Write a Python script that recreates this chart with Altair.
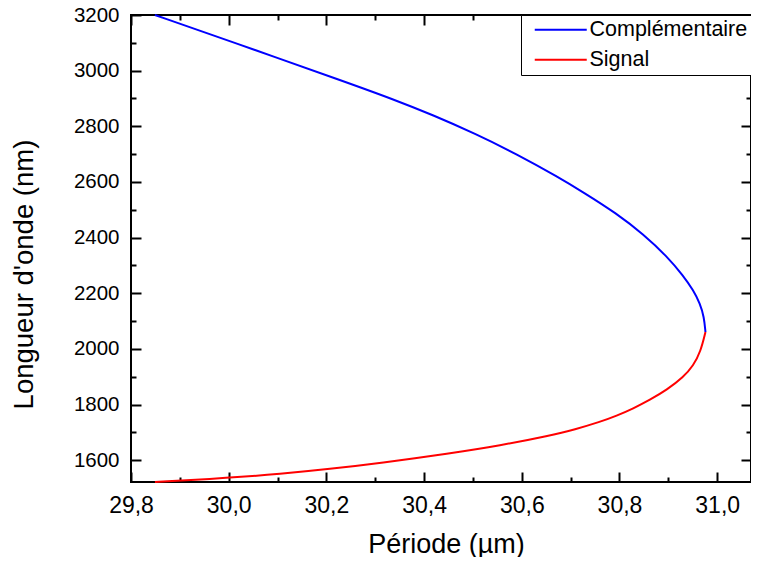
import altair as alt
import pandas as pd

# Complémentaire (idler) branch: period (µm), wavelength (nm)
comp_period = [29.849, 30.003, 30.248, 30.334, 30.419, 30.504, 30.590, 30.675, 30.726,
               30.794, 30.849, 30.897, 30.931, 30.951, 30.965, 30.973, 30.976]
comp_wl = [3200, 3106, 2954, 2899, 2840, 2774, 2700, 2617, 2563,
           2487, 2412, 2333, 2262, 2211, 2163, 2115, 2061]

# Signal branch
sig_period = [30.976, 30.966, 30.951, 30.931, 30.897, 30.862, 30.828, 30.794, 30.760,
              30.709, 30.658, 30.555, 30.453, 30.310, 30.207, 30.105, 30.003, 29.849]
sig_wl = [2061, 1990, 1940, 1899, 1853, 1817, 1786, 1760, 1738,
          1711, 1689, 1653, 1625, 1590, 1569, 1551, 1537, 1522]

series_names = ["Complémentaire", "Signal"]
series_colors = ["#0000FF", "#FF0000"]

x_domain = [29.8, 31.0692]
y_domain = [1522, 3200]
x_major = [29.8, 30.0, 30.2, 30.4, 30.6, 30.8, 31.0]
x_minor = [29.9, 30.1, 30.3, 30.5, 30.7, 30.9]
y_major = [1600, 1800, 2000, 2200, 2400, 2600, 2800, 3000, 3200]
y_minor = [1700, 1900, 2100, 2300, 2500, 2700, 2900, 3100]

rows = []
for i, (p, w) in enumerate(zip(comp_period, comp_wl)):
    rows.append({"x": p, "y": w, "s": series_names[0], "i": i})
for i, (p, w) in enumerate(zip(sig_period, sig_wl)):
    rows.append({"x": p, "y": w, "s": series_names[1], "i": i})
df = pd.DataFrame(rows)

FONT = "Arial, Liberation Sans, sans-serif"
xs = alt.Scale(domain=x_domain, nice=False, zero=False)
ys = alt.Scale(domain=y_domain, nice=False, zero=False)
xlab = "replace(format(datum.value, '.1f'), '.', ',')"


def xaxis(orient, values, size, labels, title=None, **kw):
    return alt.Axis(orient=orient, values=values, tickSize=size, offset=-size,
                    labels=labels, labelFlush=False, domain=False, grid=False,
                    tickColor="black", tickWidth=2, title=title, labelExpr=xlab, **kw)


def yaxis(orient, values, size, labels, title=None, **kw):
    return alt.Axis(orient=orient, values=values, tickSize=size, offset=-size,
                    labels=labels, labelFlush=False, domain=False, grid=False,
                    tickColor="black", tickWidth=2, title=title, format="d", **kw)


base = alt.Chart(df)

lines = base.mark_line(interpolate="basis", strokeWidth=2).encode(
    x=alt.X("x:Q", scale=xs,
            axis=xaxis("bottom", x_major, 10, True, "Période (µm)",
                       labelFontSize=23, labelFont=FONT, labelColor="black",
                       labelPadding=12, titleFontSize=27, titleFont=FONT,
                       titleFontWeight="normal", titleColor="black",
                       titleX=315, titleY=72, titleAlign="center",
                       titleBaseline="middle")),
    y=alt.Y("y:Q", scale=ys,
            axis=yaxis("left", y_major, 10, True, "Longueur d'onde (nm)",
                       labelFontSize=20.5, labelFont=FONT, labelColor="black",
                       labelPadding=12, titleFontSize=27.5, titleFont=FONT,
                       titleFontWeight="normal", titleColor="black",
                       titleAngle=270, titleY=259, titleX=-117,
                       titleAlign="center", titleBaseline="middle")),
    color=alt.Color("s:N", scale=alt.Scale(domain=series_names, range=series_colors),
                    legend=alt.Legend(title=None, orient="none", legendX=390, legendY=0,
                                      symbolType="M-5.2,0L5.2,0", symbolSize=100,
                                      symbolStrokeWidth=2, symbolOffset=25,
                                      labelFontSize=21.5, labelFont=FONT, labelColor="black",
                                      labelOffset=18, labelLimit=0, rowPadding=7,
                                      padding=4, strokeColor="black", fillColor="white")),
    order="i:Q",
)

minor1 = base.mark_point(opacity=0).encode(
    x=alt.X("x:Q", scale=xs, axis=xaxis("bottom", x_minor, 5, False)),
    y=alt.Y("y:Q", scale=ys, axis=yaxis("left", y_minor, 5, False)),
)
major2 = base.mark_point(opacity=0).encode(
    x=alt.X("x:Q", scale=xs, axis=xaxis("top", x_major, 10, False)),
    y=alt.Y("y:Q", scale=ys, axis=yaxis("right", y_major, 10, False)),
)
minor2 = base.mark_point(opacity=0).encode(
    x=alt.X("x:Q", scale=xs, axis=xaxis("top", x_minor, 5, False)),
    y=alt.Y("y:Q", scale=ys, axis=yaxis("right", y_minor, 5, False)),
)

chart = alt.layer(lines, minor1, major2, minor2).resolve_axis(
    x="independent", y="independent"
).properties(
    width=620, height=467,
    autosize=alt.AutoSizeParams(type="none"),
    padding={"left": 123, "top": 7, "right": 0, "bottom": 75},
).configure_view(stroke="black", strokeWidth=2)

chart.save("out.html", embed_options={"renderer": "svg", "actions": False})
